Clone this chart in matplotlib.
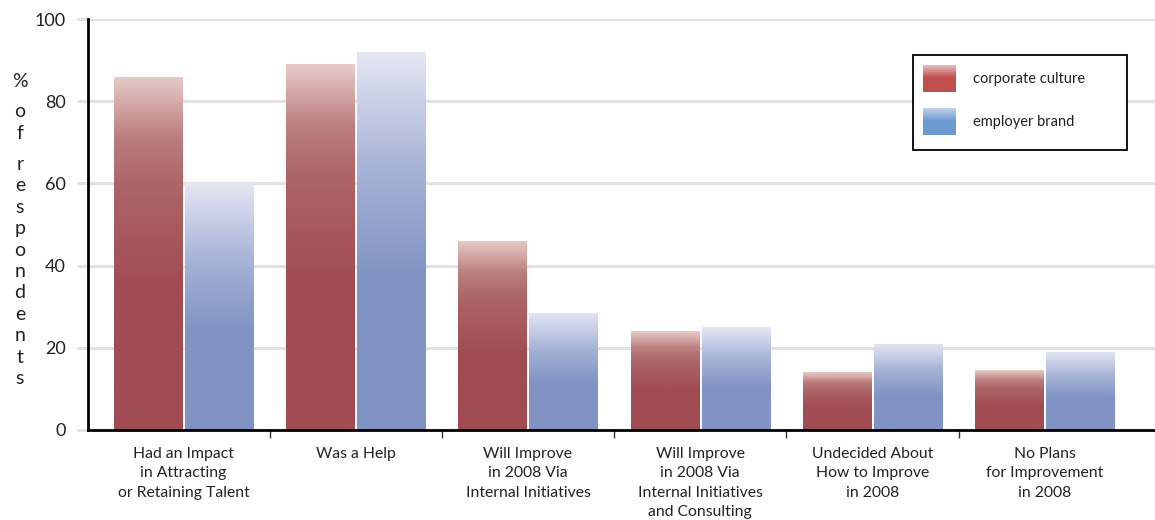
import matplotlib.pyplot as plt
import numpy as np
from matplotlib.colors import to_rgb
from matplotlib.patches import Rectangle

categories = [
    "Had an Impact\nin Attracting\nor Retaining Talent",
    "Was a Help",
    "Will Improve\nin 2008 Via\nInternal Initiatives",
    "Will Improve\nin 2008 Via\nInternal Initiatives\nand Consulting",
    "Undecided About\nHow to Improve\nin 2008",
    "No Plans\nfor Improvement\nin 2008",
]
corporate_culture = [86, 89, 46, 24, 14, 14.5]
employer_brand = [60, 92, 28.5, 25, 21, 19]
series_names = ["corporate culture", "employer brand"]
y_ticks = [0, 20, 40, 60, 80, 100]

FONT = "Lato"
INK = "#222222"
GRID = "#e2e2e2"

# gradient stops (position from top of bar, colour); solid below the last stop
RED_STOPS = [(0.0, "#e5cbc7"), (0.07, "#d6aba9"), (0.17, "#bb7e7e"),
             (0.30, "#ad6668"), (0.60, "#a14b53")]
BLUE_STOPS = [(0.0, "#e4e7f3"), (0.30, "#a8b4d8"), (0.60, "#8093c3")]
LEG_RED = [(0.0, "#e6c0bd"), (0.45, "#c0504f")]
LEG_BLUE = [(0.0, "#c8d8ee"), (0.5, "#6a9ad0")]


def gradient(stops, n=256):
    t = np.linspace(0, 1, n)
    pos = [s[0] for s in stops]
    cols = np.array([to_rgb(s[1]) for s in stops])
    img = np.stack([np.interp(t, pos, cols[:, k]) for k in range(3)], axis=1)
    return img[:, None, :]


fig = plt.figure(figsize=(11.55, 5.2), dpi=100)
ax = fig.add_axes([88 / 1155, 90 / 520, 1 - 88 / 1155, 411 / 520])

x = np.arange(len(categories))
width = 0.395
offset = 0.206
for vals, stops in ((corporate_culture, RED_STOPS), (employer_brand, BLUE_STOPS)):
    pos = x - offset if stops is RED_STOPS else x + offset
    bars = ax.bar(pos, vals, width, color="none", edgecolor="none", zorder=2)
    img = gradient(stops)
    for b in bars:
        x0, w, h = b.get_x(), b.get_width(), b.get_height()
        im = ax.imshow(img, extent=(x0, x0 + w, 0, h), aspect="auto",
                       origin="upper", zorder=2, interpolation="bilinear")
        im.set_clip_path(b)

ax.set_xlim(-0.554, 5.64)
ax.set_ylim(0, 100)

ax.set_yticks(y_ticks)
ax.set_yticklabels([str(v) for v in y_ticks], fontsize=13, family=FONT, color=INK)
ax.tick_params(axis="y", length=8, width=2.2, color=GRID, pad=8)
ax.yaxis.get_major_ticks()[0].tick1line.set_color("black")
ax.grid(axis="y", color=GRID, linewidth=2.2, zorder=0)
ax.set_axisbelow(True)

ax.set_xticks(x)
ax.set_xticklabels(categories, fontsize=11.3, family=FONT, color=INK, linespacing=1.5)
ax.set_xticks(x[:-1] + 0.5, minor=True)
ax.tick_params(axis="x", which="major", length=0, pad=12)
ax.tick_params(axis="x", which="minor", length=6, width=1, color="#333333")

for s in ("top", "right"):
    ax.spines[s].set_visible(False)
ax.spines["left"].set_linewidth(2)
ax.spines["bottom"].set_linewidth(2)

# stacked y-axis label
ylabel_chars = ["%", "o", "f", "r", "e", "s", "p", "o", "n", "d", "e", "n", "t", "s"]
baselines = [87, 117, 139] + [170 + 21.4 * k for k in range(11)]
for ch, yb in zip(ylabel_chars, baselines):
    fig.text(20 / 1155, 1 - yb / 520, ch, ha="center", va="baseline",
             fontsize=14, family=FONT, color=INK)

# legend box
fig.patches.append(Rectangle((913 / 1155, 1 - 150 / 520), 214 / 1155, 95 / 520,
                             transform=fig.transFigure, facecolor="white",
                             edgecolor="black", linewidth=1.3, zorder=5))
for name, stops, ytop in ((series_names[0], LEG_RED, 65), (series_names[1], LEG_BLUE, 108)):
    lax = fig.add_axes([923 / 1155, 1 - (ytop + 27) / 520, 33 / 1155, 27 / 520], zorder=6)
    lax.imshow(gradient(stops), aspect="auto", interpolation="bilinear")
    lax.axis("off")
    fig.text(973 / 1155, 1 - (ytop + 14) / 520, name, ha="left", va="center",
             fontsize=10.5, family=FONT, color=INK, zorder=7)

fig.savefig("out.png", dpi=100)
